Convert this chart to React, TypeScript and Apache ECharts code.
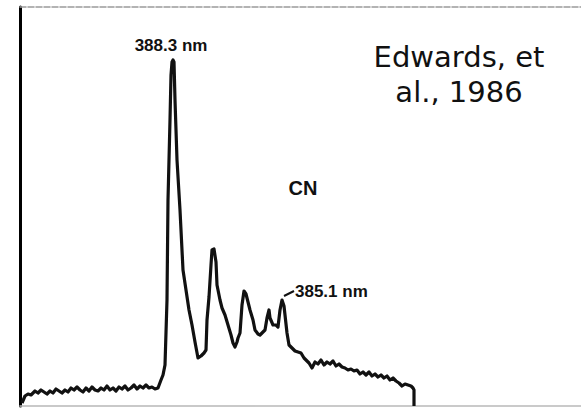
import React, { useEffect, useRef } from "react";
import * as echarts from "echarts";

// Spectrum trace: detector channel (0 = left frame edge) and relative intensity
const channel = [
  2, 5, 8, 11, 15, 18, 21, 24, 27, 30, 33, 36, 39, 42, 45, 48, 51, 54, 57, 60,
  63, 66, 69, 72, 75, 78, 81, 84, 87, 90, 93, 96, 99, 102, 105, 108, 111, 114, 117, 120,
  123, 126, 129, 132, 135, 138, 141, 143, 145, 147, 148, 150, 151, 152, 153, 154, 155, 157, 160, 163,
  166, 169, 172, 175, 178, 181, 184, 186, 187, 189, 191, 192, 194, 196, 197, 200, 202, 205, 208, 211,
  213, 215, 217, 218, 220, 222, 224, 226, 228, 230, 233, 235, 238, 240, 243, 245, 247, 249, 250, 253,
  256, 258, 260, 262, 264, 265, 267, 269, 272, 275, 278, 281, 284, 287, 289, 292, 295, 298, 301, 304,
  307, 310, 313, 316, 319, 322, 325, 328, 331, 334, 337, 340, 343, 346, 349, 352, 355, 358, 361, 364,
  367, 370, 373, 376, 379, 382, 385, 388, 391, 393, 394,
];
const intensity = [
  3, 10, 12, 11, 15, 13, 16, 14, 12, 15, 13, 17, 15, 13, 16, 14, 18, 16, 19, 16,
  14, 18, 15, 19, 16, 15, 18, 16, 20, 16, 18, 15, 19, 17, 20, 16, 18, 21, 17, 20,
  18, 21, 18, 19, 17, 18, 26, 31, 41, 106, 206, 286, 331, 344, 346, 344, 306, 246, 196, 136,
  116, 96, 81, 64, 48, 50, 53, 56, 86, 109, 141, 156, 157, 144, 121, 106, 98, 91, 81, 71,
  63, 59, 64, 68, 73, 101, 115, 112, 104, 96, 86, 76, 72, 71, 74, 76, 88, 96, 88, 81,
  81, 79, 96, 106, 100, 91, 73, 61, 58, 55, 54, 53, 48, 45, 43, 38, 44, 42, 46, 41,
  44, 42, 45, 40, 42, 39, 38, 36, 37, 35, 36, 32, 34, 31, 34, 30, 32, 29, 31, 28,
  30, 26, 28, 25, 23, 20, 22, 21, 20, 18, 16,
];
const endChannel = 394;

// Annotations
const peakLabels = ["388.3 nm", "385.1 nm"];
const bandLabel = "CN";
const citation = ["Edwards, et", "al., 1986"];

export default function App() {
  const ref = useRef<HTMLDivElement>(null);
  useEffect(() => {
    if (!ref.current) return;
    const chart = echarts.init(ref.current, null, { renderer: "svg" });
    const data = channel.map((c, i) => [c, intensity[i]]);
    data.push([endChannel, 0]);
    chart.setOption({
      animation: false,
      backgroundColor: "#ffffff",
      grid: { left: 20, right: 0, top: 7, bottom: 2 },
      xAxis: [
        {
          type: "value",
          min: 0,
          max: 561,
          axisLine: { show: true, onZero: false, lineStyle: { color: "#b8b8b8", width: 1.5 } },
          axisTick: { show: false },
          axisLabel: { show: false },
          splitLine: { show: false },
        },
        {
          type: "value",
          position: "top",
          min: 0,
          max: 561,
          axisLine: { show: true, onZero: false, lineStyle: { color: "#9a9a9a", width: 1.5, type: [6, 2] } },
          axisTick: { show: false },
          axisLabel: { show: false },
          splitLine: { show: false },
        },
      ],
      yAxis: {
        type: "value",
        min: 0,
        max: 399,
        axisLine: { show: true, onZero: false, lineStyle: { color: "#000", width: 3 } },
        axisTick: { show: false },
        axisLabel: { show: false },
        splitLine: { show: false },
      },
      series: [
        {
          type: "line",
          data,
          symbol: "none",
          lineStyle: { color: "#111", width: 3.2, join: "round" },
          z: 3,
        },
      ],
      graphic: [
        {
          type: "text",
          x: 171,
          y: 45,
          style: {
            text: peakLabels[0],
            font: "bold 17px 'Liberation Sans', Arial, sans-serif",
            fill: "#111",
            align: "center",
            verticalAlign: "middle",
          },
        },
        {
          type: "text",
          x: 295,
          y: 291,
          style: {
            text: peakLabels[1],
            font: "bold 17px 'Liberation Sans', Arial, sans-serif",
            fill: "#111",
            align: "left",
            verticalAlign: "middle",
          },
        },
        {
          type: "line",
          shape: { x1: 284, y1: 296, x2: 294, y2: 291 },
          style: { stroke: "#111", lineWidth: 2 },
        },
        {
          type: "text",
          x: 303,
          y: 188,
          style: {
            text: bandLabel,
            font: "bold 20px 'Liberation Sans', Arial, sans-serif",
            fill: "#111",
            align: "center",
            verticalAlign: "middle",
          },
        },
        {
          type: "text",
          x: 459,
          y: 57,
          style: {
            text: citation[0],
            font: "29px 'DejaVu Sans', sans-serif",
            fill: "#111",
            align: "center",
            verticalAlign: "middle",
          },
        },
        {
          type: "text",
          x: 459,
          y: 92,
          style: {
            text: citation[1],
            font: "29px 'DejaVu Sans', sans-serif",
            fill: "#111",
            align: "center",
            verticalAlign: "middle",
          },
        },
      ],
    });
    return () => chart.dispose();
  }, []);
  return (
    <div
      ref={ref}
      style={{ width: 581, height: 408, position: "absolute", left: 0, top: 0 }}
    />
  );
}
